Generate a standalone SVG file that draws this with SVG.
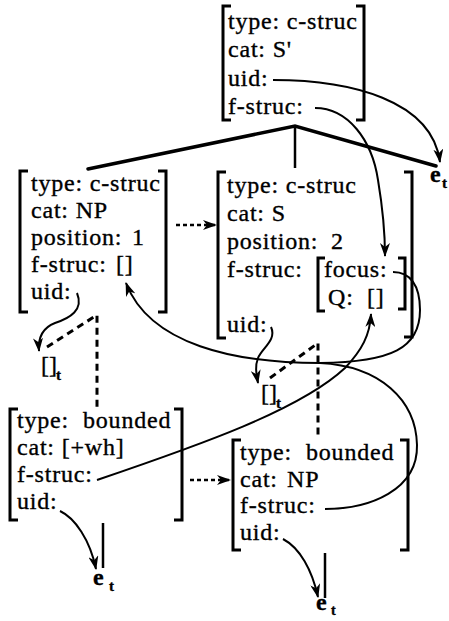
<svg xmlns="http://www.w3.org/2000/svg" width="449" height="621" viewBox="0 0 449 621">
<defs>
<style>
text{font-family:"Liberation Serif","Times New Roman",serif;font-size:24px;letter-spacing:0.8px;fill:#000;stroke:#000;stroke-width:0.35px}
.br{fill:none;stroke:#000;stroke-width:3;stroke-linecap:butt;stroke-linejoin:miter}
.tree{fill:none;stroke:#000;stroke-width:3.5;stroke-linecap:round}
.c{fill:none;stroke:#000;stroke-width:2}
.ca{fill:none;stroke:#000;stroke-width:2;marker-end:url(#ah)}
.d{fill:none;stroke:#000;stroke-width:3;stroke-dasharray:7 5}
.dd{fill:none;stroke:#000;stroke-width:2.5;stroke-dasharray:4 3;marker-end:url(#ah)}
.lv{fill:none;stroke:#000;stroke-width:2.5}
.e{font-weight:bold;letter-spacing:0}
.sub{font-size:15px;font-weight:bold;letter-spacing:0}
</style>
<marker id="ah" viewBox="0 0 14 10" refX="13" refY="5" markerWidth="14" markerHeight="10" markerUnits="userSpaceOnUse" orient="auto">
<path d="M0,0 L14,5 L0,10 L4,5 z" fill="#000"/>
</marker>
</defs>
<rect width="449" height="621" fill="#fff"/>

<g id="connectors">
<polyline class="tree" points="88,169 295,126 436,166"/>
<line class="lv" x1="295" y1="126" x2="295" y2="168"/>
<path class="ca" d="M273,80 C350,80 432,100 440,162"/>
<path class="ca" d="M315,108 C348,108 372,140 378,180 C383,210 385,230 385,256"/>
<path class="ca" d="M393,272 C410,272 420,285 420,310 C420,348 392,362 320,363 C235,363 150,345 126,283"/>
<path class="c" d="M325,509 C370,509 418,490 417,445 C416,400 380,366 320,363"/>
<path class="ca" d="M97,480 C200,445 300,410 345,368 C362,350 370,335 371,314"/>
<path class="ca" d="M77,293 C84,310 70,318 55,323 C42,328 38,338 39,351"/>
<path class="ca" d="M271,327 C277,340 262,348 258,358 C255,366 256,372 258,383"/>
<path class="ca" d="M60,511 C75,518 90,540 96,569"/>
<path class="ca" d="M283,539 C300,548 312,570 318,597"/>
<line class="lv" x1="103" y1="523" x2="103" y2="568"/>
<line class="lv" x1="325" y1="553" x2="325" y2="598"/>
<polyline class="d" points="47,347 97,315 97,408"/>
<polyline class="d" points="270,378 318,343 318,438"/>
<line class="dd" x1="176" y1="225" x2="216" y2="225"/>
<line class="dd" x1="190" y1="480" x2="230" y2="480"/>
</g>

<g id="node-top">
<path class="br" d="M231,6 H223 V120 H231"/>
<path class="br" d="M356,6 H364 V120 H356"/>
<text x="228" y="29">type: c-struc</text>
<text x="228" y="57">cat: S'</text>
<text x="228" y="86">uid:</text>
<text x="228" y="114">f-struc:</text>
</g>

<g id="node-np">
<path class="br" d="M28,171 H20 V312 H28"/>
<path class="br" d="M158,171 H166 V312 H158"/>
<text x="31" y="191">type: c-struc</text>
<text x="31" y="218">cat: NP</text>
<text x="31" y="245">position: <tspan x="132">1</tspan></text>
<text x="31" y="272">f-struc: <tspan x="116">[]</tspan></text>
<text x="31" y="299">uid:</text>
</g>

<g id="node-s">
<path class="br" d="M226,172 H218 V338 H226"/>
<path class="br" d="M404,172 H412 V337 H404"/>
<text x="227" y="193">type: c-struc</text>
<text x="227" y="221">cat: S</text>
<text x="227" y="249">position: <tspan x="331">2</tspan></text>
<text x="227" y="277">f-struc:</text>
<path class="br" d="M325,258 H318 V311 H325"/>
<path class="br" d="M398,258 H405 V309 H398"/>
<text x="324" y="277">focus:</text>
<text x="328" y="305">Q: <tspan x="367">[]</tspan></text>
<text x="227" y="332">uid:</text>
</g>

<g id="trace-1">
<text x="41" y="373" style="letter-spacing:0">[]</text>
<text class="sub" x="56" y="380">t</text>
</g>
<g id="trace-2">
<text x="261" y="401" style="letter-spacing:0">[]</text>
<text class="sub" x="276" y="408">t</text>
</g>

<g id="node-wh">
<path class="br" d="M18,409 H10 V520 H18"/>
<path class="br" d="M174,409 H182 V520 H174"/>
<text x="17" y="428">type: <tspan x="83">bounded</tspan></text>
<text x="17" y="455">cat: [+wh]</text>
<text x="17" y="482">f-struc:</text>
<text x="17" y="509">uid:</text>
</g>

<g id="node-np2">
<path class="br" d="M241,440 H233 V550 H241"/>
<path class="br" d="M400,440 H408 V550 H400"/>
<text x="240" y="460">type: <tspan x="306">bounded</tspan></text>
<text x="240" y="487">cat: <tspan x="287">NP</tspan></text>
<text x="240" y="513">f-struc:</text>
<text x="240" y="540">uid:</text>
</g>

<g id="e-top">
<text class="e" x="430" y="182">e</text>
<text class="sub" x="442" y="188">t</text>
</g>
<g id="e-left">
<text class="e" x="93" y="585">e</text>
<text class="sub" x="109" y="591">t</text>
</g>
<g id="e-right">
<text class="e" x="316" y="610">e</text>
<text class="sub" x="331" y="615" style="font-size:14px">t</text>
</g>
</svg>
